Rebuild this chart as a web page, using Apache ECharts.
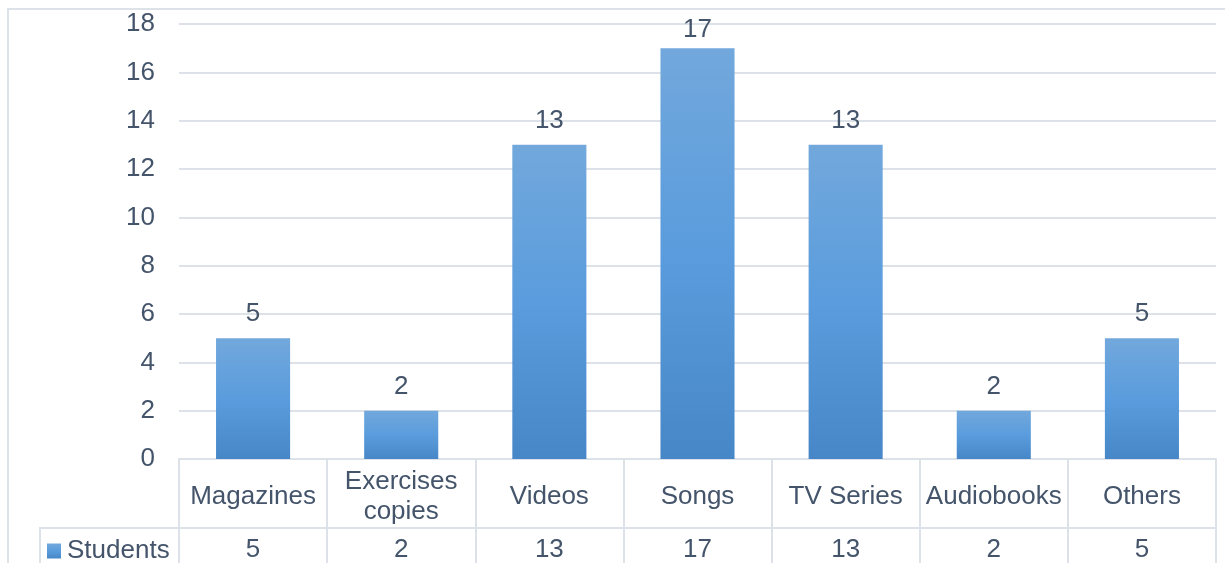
<!DOCTYPE html>
<html>
<head>
<meta charset="utf-8">
<title>Students</title>
<script src="https://cdn.jsdelivr.net/npm/echarts@6/dist/echarts.min.js"></script>
<style>
  html, body { margin: 0; padding: 0; background: #ffffff; }
  #chart { width: 1225px; height: 563px; }
</style>
</head>
<body>
<div id="chart"></div>
<script>
// Resources used by students
const categories = ['Magazines', 'Exercises\ncopies', 'Videos', 'Songs', 'TV Series', 'Audiobooks', 'Others'];
const seriesName = 'Students';
const studentValues = [5, 2, 13, 17, 13, 2, 5];
const yTicks = { min: 0, max: 18, interval: 2 };

const textColor = '#44546a';
const lineColor = '#dde2e8';
const fontFamily = '"Liberation Sans", Arial, sans-serif';
const fontSize = 26;

const barGradient = new echarts.graphic.LinearGradient(0, 0, 0, 1, [
  { offset: 0, color: '#72a8dc' },
  { offset: 0.5, color: '#5a9cdd' },
  { offset: 1, color: '#4787c7' }
]);

// labels sit above each bar; the tallest one is pulled in so it stays inside the frame
const peak = Math.max(...studentValues);
const barData = studentValues.map(v => (v === peak ? { value: v, label: { distance: 5 } } : v));

const chart = echarts.init(document.getElementById('chart'), null, { renderer: 'canvas' });

chart.setOption({
  animation: false,
  backgroundColor: '#ffffff',
  textStyle: { fontFamily: fontFamily },
  grid: { left: 179, right: 9, top: 24, bottom: 104, containLabel: false },
  legend: {
    data: [seriesName],
    left: 47,
    top: 538,
    icon: 'rect',
    itemWidth: 14,
    itemHeight: 15,
    itemGap: 6,
    padding: 0,
    selectedMode: false,
    textStyle: { fontSize: fontSize, color: textColor, fontFamily: fontFamily, padding: [0, 0, 0, 1] }
  },
  xAxis: [
    {
      type: 'category',
      data: categories,
      position: 'bottom',
      axisLine: { show: true, lineStyle: { color: lineColor, width: 2 } },
      axisTick: { show: true, length: 110, lineStyle: { color: lineColor, width: 2 } },
      axisLabel: {
        interval: 0,
        fontSize: fontSize,
        lineHeight: 30,
        color: textColor,
        fontFamily: fontFamily,
        margin: 38,
        verticalAlign: 'middle'
      }
    },
    {
      type: 'category',
      data: studentValues.map(String),
      position: 'bottom',
      offset: 77,
      axisLine: { show: false },
      axisTick: { show: false },
      axisLabel: {
        interval: 0,
        fontSize: fontSize,
        color: textColor,
        fontFamily: fontFamily,
        margin: 14,
        verticalAlign: 'middle'
      }
    }
  ],
  yAxis: {
    type: 'value',
    min: yTicks.min,
    max: yTicks.max,
    interval: yTicks.interval,
    axisLine: { show: false },
    axisTick: { show: false },
    axisLabel: {
      fontSize: fontSize,
      color: textColor,
      fontFamily: fontFamily,
      margin: 24,
      padding: [5, 0, 0, 0]
    },
    splitLine: { lineStyle: { color: lineColor, width: 2 } }
  },
  series: [
    {
      name: seriesName,
      type: 'bar',
      xAxisIndex: 0,
      data: barData,
      barWidth: '50%',
      itemStyle: { color: barGradient },
      label: {
        show: true,
        position: 'top',
        distance: 11,
        fontSize: fontSize,
        color: textColor,
        fontFamily: fontFamily
      }
    }
  ],
  graphic: [
    // outer chart frame (top and left edges)
    { type: 'polyline', shape: { points: [[8, 563], [8, 9], [1225, 9]] },
      style: { stroke: lineColor, lineWidth: 2, fill: null }, silent: true },
    // data table: row separator and legend cell edge
    { type: 'line', shape: { x1: 39, y1: 528, x2: 1216, y2: 528 },
      style: { stroke: lineColor, lineWidth: 2 }, silent: true },
    { type: 'line', shape: { x1: 40, y1: 528, x2: 40, y2: 563 },
      style: { stroke: lineColor, lineWidth: 2 }, silent: true }
  ]
});
</script>
</body>
</html>
